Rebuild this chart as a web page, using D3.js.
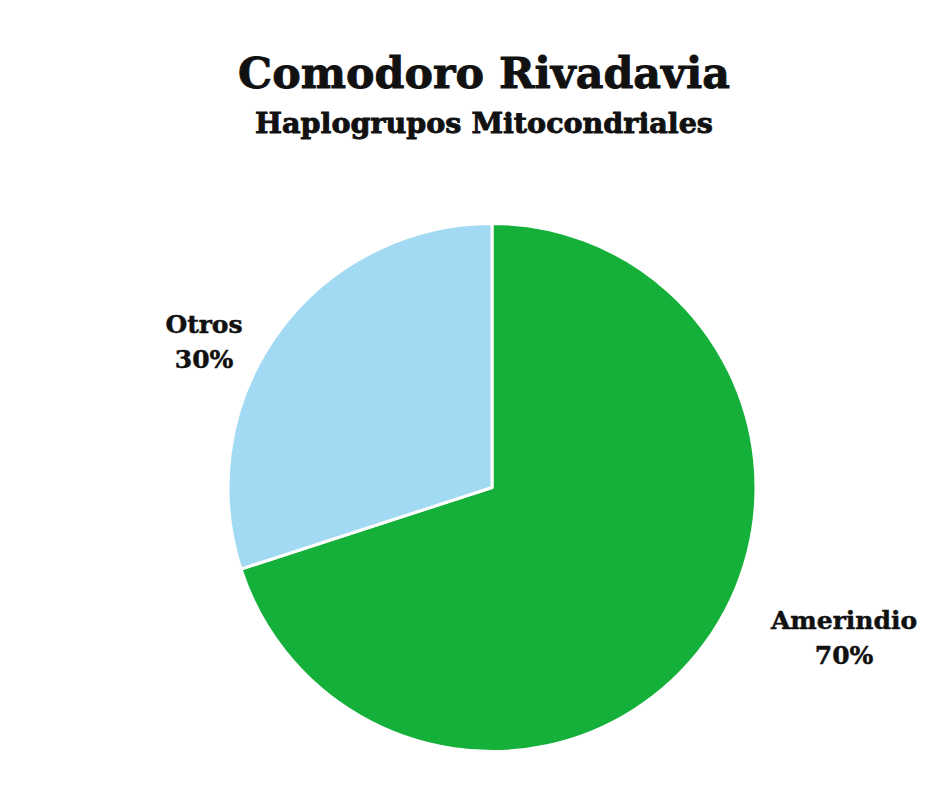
<!DOCTYPE html>
<html>
<head>
<meta charset="utf-8">
<script src="https://cdn.jsdelivr.net/npm/d3@7"></script>
<style>
  html, body { margin: 0; padding: 0; background: #ffffff; }
  svg { display: block; }
  text { font-family: "DejaVu Serif", "Liberation Serif", serif; font-weight: bold; fill: #111; font-variant-numeric: oldstyle-nums; }
  text.heavy { stroke: #111; stroke-width: 0.9px; paint-order: stroke; }
</style>
</head>
<body>
<svg id="chart" width="947" height="788"></svg>
<script>
// Chart data
const categories = ["Amerindio", "Otros"];
const values = [70, 30];
const colors = ["#15b03a", "#a3daf3"];
const title = "Comodoro Rivadavia";
const subtitle = "Haplogrupos Mitocondriales";

const W = 947, H = 788;
const cx = 492, cy = 487.5, radius = 264;

const svg = d3.select("#chart");

// Fit a text element to a target width by scaling its font size
function fitText(sel, targetWidth, baseSize) {
  sel.style("font-size", baseSize + "px");
  const w = sel.node().getComputedTextLength();
  sel.style("font-size", (baseSize * targetWidth / w).toFixed(2) + "px");
  return sel;
}

// Titles
fitText(svg.append("text")
  .attr("class", "heavy")
  .attr("x", 484).attr("y", 88)
  .attr("text-anchor", "middle")
  .text(title), 492, 46);

fitText(svg.append("text")
  .attr("class", "heavy")
  .attr("x", 484).attr("y", 133)
  .attr("text-anchor", "middle")
  .text(subtitle), 458, 30);

// Pie
const data = categories.map((c, i) => ({ name: c, value: values[i], color: colors[i] }));
const pie = d3.pie().sort(null).value(d => d.value).startAngle(0).endAngle(2 * Math.PI);
const arc = d3.arc().innerRadius(0).outerRadius(radius);

const g = svg.append("g").attr("transform", `translate(${cx},${cy})`);
g.selectAll("path.slice")
  .data(pie(data))
  .join("path")
  .attr("class", "slice")
  .attr("d", arc)
  .attr("fill", d => d.data.color)
  .attr("stroke", "#ffffff")
  .attr("stroke-width", 3)
  .attr("stroke-linejoin", "round");

// Data labels, placed beside each slice
const labelPos = {
  "Amerindio": { x: 844, y: 629 },
  "Otros": { x: 204, y: 333 }
};
const total = d3.sum(values);
const labels = svg.selectAll("g.label")
  .data(data)
  .join("g")
  .attr("class", "label")
  .attr("transform", d => `translate(${labelPos[d.name].x},${labelPos[d.name].y})`);

labels.append("text")
  .attr("class", "heavy")
  .attr("text-anchor", "middle")
  .style("font-size", "25px")
  .style("stroke-width", "0.5px")
  .text(d => d.name);
labels.append("text")
  .attr("class", "heavy")
  .attr("text-anchor", "middle")
  .attr("y", 35)
  .style("font-size", "25px")
  .style("stroke-width", "0.5px")
  .text(d => Math.round(d.value / total * 100) + "%");
</script>
</body>
</html>
